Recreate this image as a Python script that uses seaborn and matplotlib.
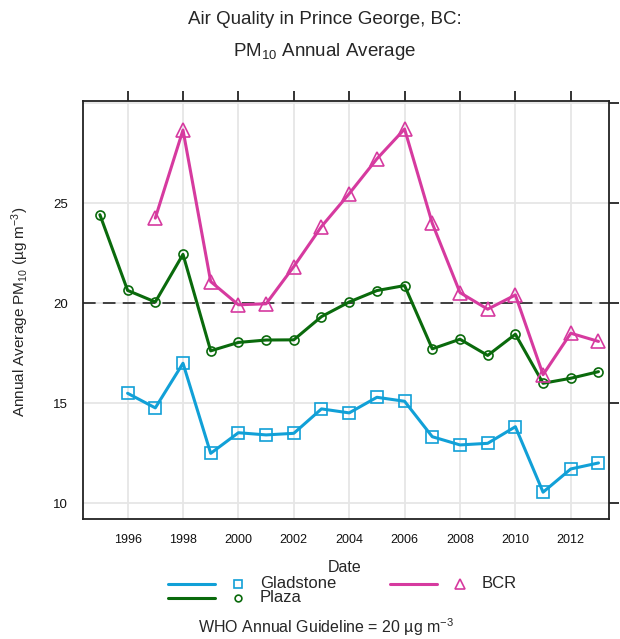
import matplotlib
matplotlib.use("Agg")
import matplotlib.pyplot as plt
from matplotlib.lines import Line2D
import seaborn as sns
import pandas as pd

# Annual average PM10 (ug/m3) per monitoring site
gladstone_years = list(range(1996, 2014))
gladstone_pm10 = [15.5, 14.77, 17.0, 12.5, 13.53, 13.42, 13.5, 14.72, 14.52, 15.3,
                  15.1, 13.33, 12.92, 13.0, 13.83, 10.56, 11.72, 12.02]

plaza_years = list(range(1995, 2014))
plaza_pm10 = [24.42, 20.64, 20.06, 22.44, 17.62, 18.04, 18.16, 18.17, 19.33, 20.06,
              20.63, 20.88, 17.72, 18.2, 17.39, 18.45, 16.0, 16.25, 16.58]

bcr_years = list(range(1997, 2014))
bcr_pm10 = [24.25, 28.65, 21.08, 19.92, 19.97, 21.83, 23.83, 25.47, 27.21, 28.7,
            23.99, 20.53, 19.7, 20.41, 16.43, 18.5, 18.09]

site_names = ["Gladstone", "Plaza", "BCR"]
site_colors = ["#11A0D7", "#0A6A0C", "#D63A9F"]
site_markers = ["s", "o", "^"]
site_msize = [8.5, 6.5, 10]

x_ticks = list(range(1996, 2014, 2))
y_ticks = [10, 15, 20, 25, 30]
y_ticklabels = ["10", "15", "20", "25", ""]
who_guideline = 20

frames = []
for name, yrs, vals in [("Gladstone", gladstone_years, gladstone_pm10),
                        ("Plaza", plaza_years, plaza_pm10),
                        ("BCR", bcr_years, bcr_pm10)]:
    frames.append(pd.DataFrame({"Date": yrs, "PM10": vals, "site": name}))
df = pd.concat(frames, ignore_index=True)

sns.set_style("white")
plt.rcParams["font.family"] = ["Liberation Sans", "DejaVu Sans"]
plt.rcParams["mathtext.fontset"] = "custom"
plt.rcParams["mathtext.rm"] = "Liberation Sans"
plt.rcParams["mathtext.it"] = "Liberation Sans"

fig = plt.figure(figsize=(6.2, 6.39), dpi=100)
ax = fig.add_axes([83 / 620, 1 - 519 / 639, 526 / 620, 418 / 639])

# background grid
for xv in x_ticks:
    ax.axvline(xv, color="#E6E6E6", lw=1.3, zorder=0)
for yv in y_ticks:
    ax.axhline(yv, color="#E6E6E6", lw=1.3, zorder=0)

ax.axhline(who_guideline, color="#333333", lw=1.3, dashes=(7, 4), zorder=1)

for name, col, mk, ms in zip(site_names, site_colors, site_markers, site_msize):
    sub = df[df["site"] == name]
    sns.lineplot(data=sub, x="Date", y="PM10", ax=ax, color=col, lw=2.2,
                 marker=mk, markersize=ms, markerfacecolor="none",
                 markeredgecolor=col, markeredgewidth=1.2, zorder=3,
                 legend=False)

ax.set_xlim(1994.39, 2013.38)
ax.set_ylim(9.22, 30.1)
ax.set_xticks(x_ticks)
ax.set_xticklabels([str(t) for t in x_ticks], fontsize=9)
ax.set_yticks(y_ticks)
ax.set_yticklabels(y_ticklabels, fontsize=9.5)
ax.tick_params(direction="out", length=7, width=1.2, top=True, right=True,
               labeltop=False, labelright=False, colors="#111111", pad=4)
for sp in ax.spines.values():
    sp.set_color("#222222")
    sp.set_linewidth(1.3)
ax.set_xlabel("")
ax.set_ylabel("")

# titles and captions
fig.text(325 / 620, 1 - 20 / 639, "Air Quality in Prince George, BC:",
         ha="center", va="center", fontsize=13.5)
fig.text(325 / 620, 1 - 52 / 639, r"PM$_{10}$ Annual Average",
         ha="center", va="center", fontsize=13.5)
fig.text(20 / 620, 1 - 312 / 639, "Annual Average PM$_{10}$ (µg m$^{-3}$)",
         ha="center", va="center", rotation=90, fontsize=11)
fig.text(345 / 620, 1 - 567 / 639, "Date", ha="center", va="center",
         fontsize=11.5)
fig.text(326 / 620, 1 - 627 / 639,
         "WHO Annual Guideline = 20 µg m$^{-3}$",
         ha="center", va="center", fontsize=11.5)

# key: line sample, marker, label
key_rows = [("Gladstone", 0, 168, 584), ("Plaza", 1, 168, 598), ("BCR", 2, 390, 584)]
for label, i, x0, yy in key_rows:
    yf = 1 - yy / 639
    fig.add_artist(Line2D([x0 / 620, (x0 + 47) / 620], [yf, yf],
                          color=site_colors[i], lw=2.2,
                          transform=fig.transFigure))
    fig.add_artist(Line2D([(x0 + 70) / 620], [yf], marker=site_markers[i],
                          markersize=site_msize[i] * 0.75,
                          markerfacecolor="none",
                          markeredgecolor=site_colors[i], markeredgewidth=1.2,
                          transform=fig.transFigure))
    fig.text((x0 + 92) / 620, yf, label, ha="left", va="center", fontsize=12)

fig.savefig("out.png", dpi=100)
